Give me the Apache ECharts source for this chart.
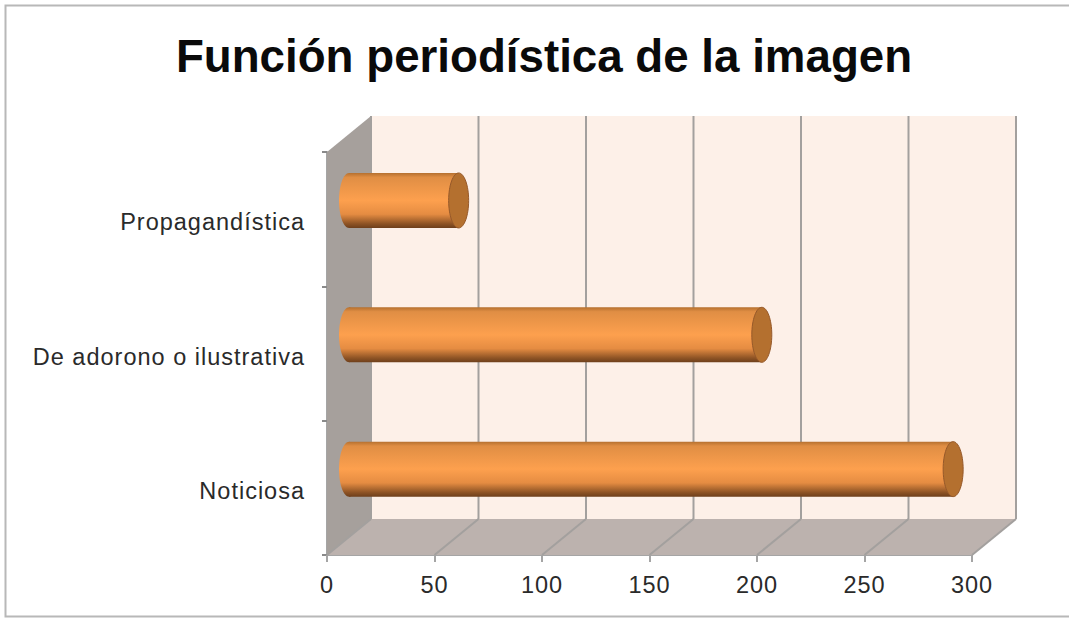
<!DOCTYPE html>
<html>
<head>
<meta charset="utf-8">
<script src="https://cdn.jsdelivr.net/npm/echarts@6/dist/echarts.min.js"></script>
<style>
html,body{margin:0;padding:0;background:#fff;overflow:hidden}
#c{width:1069px;height:619px}
svg text{letter-spacing:1px}
svg text[style*="bold"]{letter-spacing:0}
</style>
</head>
<body>
<div id="c"></div>
<script>
var titleText = 'Función periodística de la imagen';
var categories = ['Noticiosa', 'De adorono o ilustrativa', 'Propagandística'];
var values = [281, 192, 51];
var ticks = [0, 50, 100, 150, 200, 250, 300];

var DX = 44, DY = -36, BAR_H = 55, RX = 10;
var chart = echarts.init(document.getElementById('c'), null, {renderer: 'svg'});

function barFill() {
  return new echarts.graphic.LinearGradient(0, 0, 0, 1, [
    {offset: 0, color: '#b5702f'},
    {offset: 0.08, color: '#e08e44'},
    {offset: 0.5, color: '#fda04e'},
    {offset: 0.75, color: '#e58c42'},
    {offset: 0.92, color: '#8f5425'},
    {offset: 1, color: '#6e3f1b'}
  ]);
}

chart.setOption({
  animation: false,
  backgroundColor: '#fff',
  title: {
    text: titleText, left: 539, top: 28, textAlign: 'center',
    textStyle: {fontFamily: 'Liberation Sans', fontWeight: 'bold', fontSize: 45.7, color: '#0a0a0a'}
  },
  graphic: [{
    type: 'rect', z: 0, silent: true,
    shape: {x: 5.5, y: 5.5, width: 1080, height: 611},
    style: {fill: 'none', stroke: '#b8b8b8', lineWidth: 2}
  }],
  grid: {left: 327, top: 152, width: 645, height: 403},
  xAxis: {
    type: 'value', min: 0, max: 300, interval: 50,
    splitLine: {show: false},
    axisLine: {show: true, onZero: false, lineStyle: {color: '#a5a5a5', width: 2}},
    axisTick: {show: true, length: 7, lineStyle: {color: '#a5a5a5', width: 2}},
    axisLabel: {margin: 18, fontFamily: 'Liberation Sans', fontSize: 23.5, color: '#2a2a2a',
      formatter: function (v) { return ticks.indexOf(v) >= 0 ? String(v) : ''; }}
  },
  yAxis: {
    type: 'category', data: categories,
    axisLine: {show: true, lineStyle: {color: '#a5a5a5', width: 2}},
    axisTick: {show: true, length: 5, lineStyle: {color: '#8a8a8a', width: 2}},
    axisLabel: {
      margin: 22,
      formatter: function (v) { return '{a|' + v + '}'; },
      rich: {a: {padding: [6, 0, 0, 0], fontFamily: 'Liberation Sans', fontSize: 23.5, color: '#2a2a2a'}}
    }
  },
  series: [{
    // walls and floor of the 3D box
    type: 'custom', silent: true, z: 1, data: [0],
    renderItem: function (params, api) {
      var s = params.coordSys;
      var l = s.x, r = s.x + s.width, t = s.y, b = s.y + s.height;
      return {type: 'group', children: [
        {type: 'rect', shape: {x: l + DX, y: t + DY, width: s.width, height: s.height},
          style: {fill: '#fdf0e8'}},
        {type: 'polygon', shape: {points: [[l, t], [l + DX, t + DY], [l + DX, b + DY], [l, b]]},
          style: {fill: '#a6a09c'}},
        {type: 'polygon', shape: {points: [[l, b], [l + DX, b + DY], [r + DX, b + DY], [r, b]]},
          style: {fill: '#bcb2ae'}}
      ]};
    }
  }, {
    // gridlines: across the floor and up the back wall
    type: 'custom', silent: true, z: 2, data: ticks,
    encode: {x: 0},
    renderItem: function (params, api) {
      var s = params.coordSys;
      var x = api.coord([api.value(0), 0])[0];
      var b = s.y + s.height;
      var st = {stroke: '#a3a09e', lineWidth: 2, fill: 'none'};
      return {type: 'group', children: [
        {type: 'line', shape: {x1: x, y1: b, x2: x + DX, y2: b + DY}, style: st},
        {type: 'line', shape: {x1: x + DX, y1: b + DY, x2: x + DX, y2: s.y + DY}, style: st}
      ]};
    }
  }, {
    // cylinders
    type: 'custom', z: 3,
    data: values.map(function (v, i) { return [v, i]; }),
    encode: {x: 0, y: 1},
    renderItem: function (params, api) {
      var end = api.coord([api.value(0), api.value(1)]);
      var start = api.coord([0, api.value(1)]);
      var x0 = start[0] + DX / 2, x1 = end[0] + DX / 2, cy = end[1] + DY / 2 - 0.7;
      return {type: 'group', children: [
        {type: 'ellipse', shape: {cx: x0, cy: cy, rx: RX, ry: BAR_H / 2}, style: {fill: barFill()}},
        {type: 'rect', shape: {x: x0, y: cy - BAR_H / 2, width: x1 - x0, height: BAR_H}, style: {fill: barFill()}},
        {type: 'ellipse', shape: {cx: x1, cy: cy, rx: RX, ry: BAR_H / 2},
          style: {fill: '#b4702f', stroke: '#96592a', lineWidth: 1}}
      ]};
    }
  }]
});
</script>
</body>
</html>
